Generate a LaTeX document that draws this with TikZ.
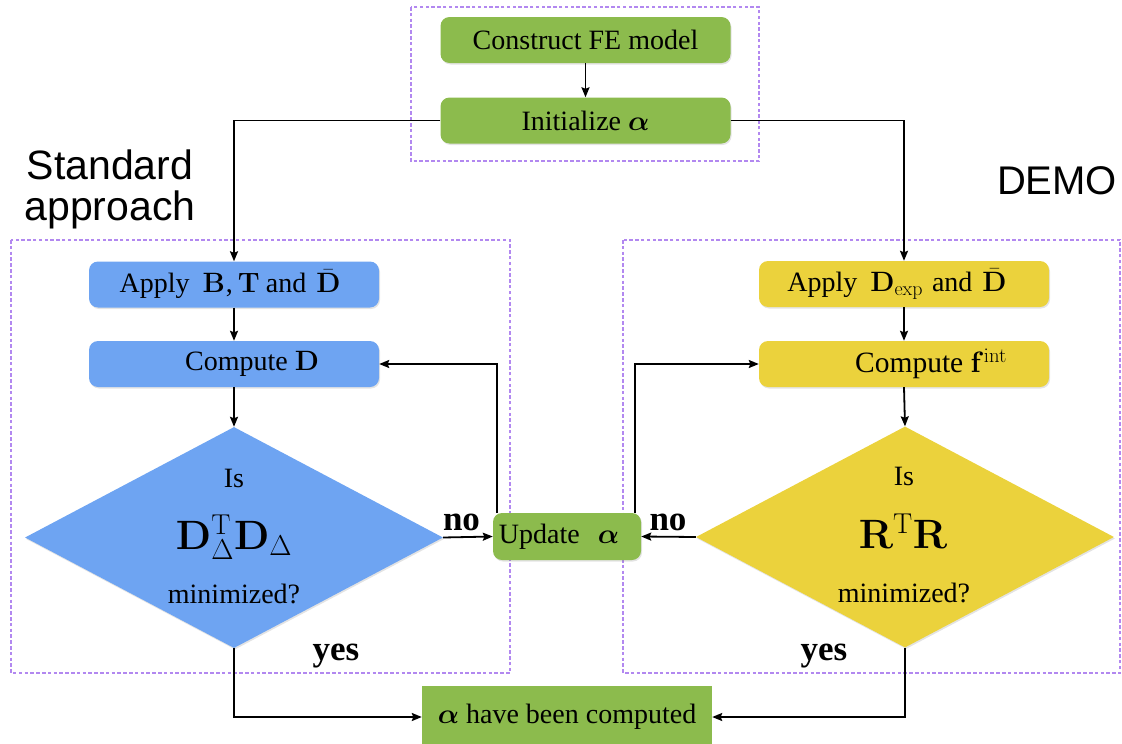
\documentclass[tikz,border=0pt]{standalone}
\usepackage{fix-cm}
\usepackage{bm}
\usepackage[no-math]{fontspec}
\setmainfont{Liberation Serif}
\newfontfamily\helv{Liberation Sans}
\usetikzlibrary{shapes.geometric,arrows.meta,shadows}
\DeclareMathAlphabet{\mathcm}{OT1}{cmr}{m}{n}
\DeclareMathSizes{28}{28}{20}{15}

\definecolor{boxgreen}{RGB}{140,187,77}
\definecolor{boxblue}{RGB}{110,164,242}
\definecolor{boxyellow}{RGB}{235,210,60}
\definecolor{framepurple}{RGB}{178,136,240}

\begin{document}
\begin{tikzpicture}[x=1pt,y=-1pt,
  every node/.style={font=\fontsize{28}{32}\selectfont, text=black},
  softshadow/.style={drop shadow={shadow xshift=1pt,shadow yshift=-1.5pt,opacity=0.22}},
  stepbox/.style={rectangle, rounded corners=9pt, minimum width=290pt,
    minimum height=46pt, inner sep=0pt, softshadow},
  greenbox/.style={stepbox, fill=boxgreen},
  bluebox/.style={stepbox, fill=boxblue},
  yellowbox/.style={stepbox, fill=boxyellow},
  decision/.style={diamond, minimum width=418pt, minimum height=221pt,
    inner sep=0pt, softshadow},
  bigmath/.style={font=\fontsize{41}{41}\selectfont},
  frame/.style={draw=framepurple, line width=2pt, dash pattern=on 3.5pt off 2.3pt},
  arr/.style={line width=1.8pt, -{Stealth[length=10pt,width=8pt,inset=1.5pt]}},
  answer/.style={font=\fontsize{35}{40}\selectfont\bfseries},
  side/.style={font=\helv\fontsize{41}{41}\selectfont, align=center}
]
\useasboundingbox (0,0) rectangle (1122,744);
\clip (0,0) rectangle (1122,744);

% dashed group frames
\draw[frame] (411,7) rectangle (759,161);
\draw[frame] (11,240) rectangle (510,673);
\draw[frame] (623,240) rectangle (1120,673);

% group titles
\node[side] (stdlabel) at (110,189) {Standard\\approach};
\node[side, font=\helv\fontsize{40}{40}\selectfont] (demolabel) at (1057,181) {DEMO};

% common start
\node[greenbox] (construct) at (585.5,40) {Construct FE model};
\node[greenbox] (init) at (585.5,120.5) {Initialize $\bm{\alpha}$};

% standard approach
\node[bluebox] (applyB) at (234,284.5)
  {Apply\hspace{13pt}$\mathbf{B}$\kern1pt,\hspace{5pt}$\mathbf{T}$\hspace{6pt}and\hspace{10pt}$\bar{\mathbf{D}}$\hspace*{8pt}};
\node[bluebox] (computeD) at (234,364) {\hspace*{36pt}Compute $\mathbf{D}$};
\node[decision, fill=boxblue] (testD) at (234,537.5) {};
\node (testDis) at (234,478.5) {Is};
\node[bigmath] (testDexpr) at (234,537.5)
  {$\mathbf{D}_\Delta^{\mathcm{T}}\mathbf{D}_\Delta$};
\node (testDmin) at (234,594) {minimized?};

% DEMO
\node[yellowbox] (applyD) at (904,284)
  {Apply\hspace{13pt}$\mathbf{D}_{\mathcm{exp}}$\hspace{9pt}and\hspace{10pt}$\bar{\mathbf{D}}$\hspace*{14pt}};
\node[yellowbox, font=\fontsize{29.5}{32}\selectfont] (computeF) at (904,364)
  {\hspace*{54pt}Compute $\mathbf{f}^{\mathcm{int}}$};
\node[decision, fill=boxyellow] (testR) at (905,537) {};
\node (testRis) at (904,476.5) {Is};
\node[bigmath] (testRexpr) at (903,531.5) {$\mathbf{R}^{\mathcm{T}}\mathbf{R}$};
\node (testRmin) at (904,592.5) {minimized?};

% update and result
\node[greenbox, minimum width=148pt, minimum height=47pt] (update) at (567,536.5)
  {Update\hspace{18pt}$\bm{\alpha}$\hspace*{16pt}};
\node[rectangle, fill=boxgreen, minimum width=290pt, minimum height=62pt, inner sep=0pt]
  (done) at (567,717) {$\bm{\alpha}$ have been computed};

% connectors
\draw[arr] (construct) -- (init);
\draw[arr] (init.west) -| (applyB.north);
\draw[arr] (init.east) -| (applyD.north);
\draw[arr] (applyB) -- (computeD);
\draw[arr] (computeD.south) -- (testD.north);
\draw[arr] (applyD) -- (computeF);
\draw[arr] (computeF.south) -- (testR.north);
\draw[arr] (testD.east) -- (update.west);
\draw[arr] (testR.west) -- (update.east);
\draw[arr] ([xshift=4pt]update.north west) |- (computeD.east);
\draw[arr] ([xshift=-6pt]update.north east) |- (computeF.west);
\draw[arr] (testD.south) |- (done.west);
\draw[arr] (testR.south) |- (done.east);

% branch labels
\node[answer, anchor=base] (noL) at (461.5,530) {no};
\node[answer, anchor=base] (noR) at (668,530) {no};
\node[answer, anchor=base] (yesL) at (336,660) {yes};
\node[answer, anchor=base] (yesR) at (824,660) {yes};
\end{tikzpicture}
\end{document}
